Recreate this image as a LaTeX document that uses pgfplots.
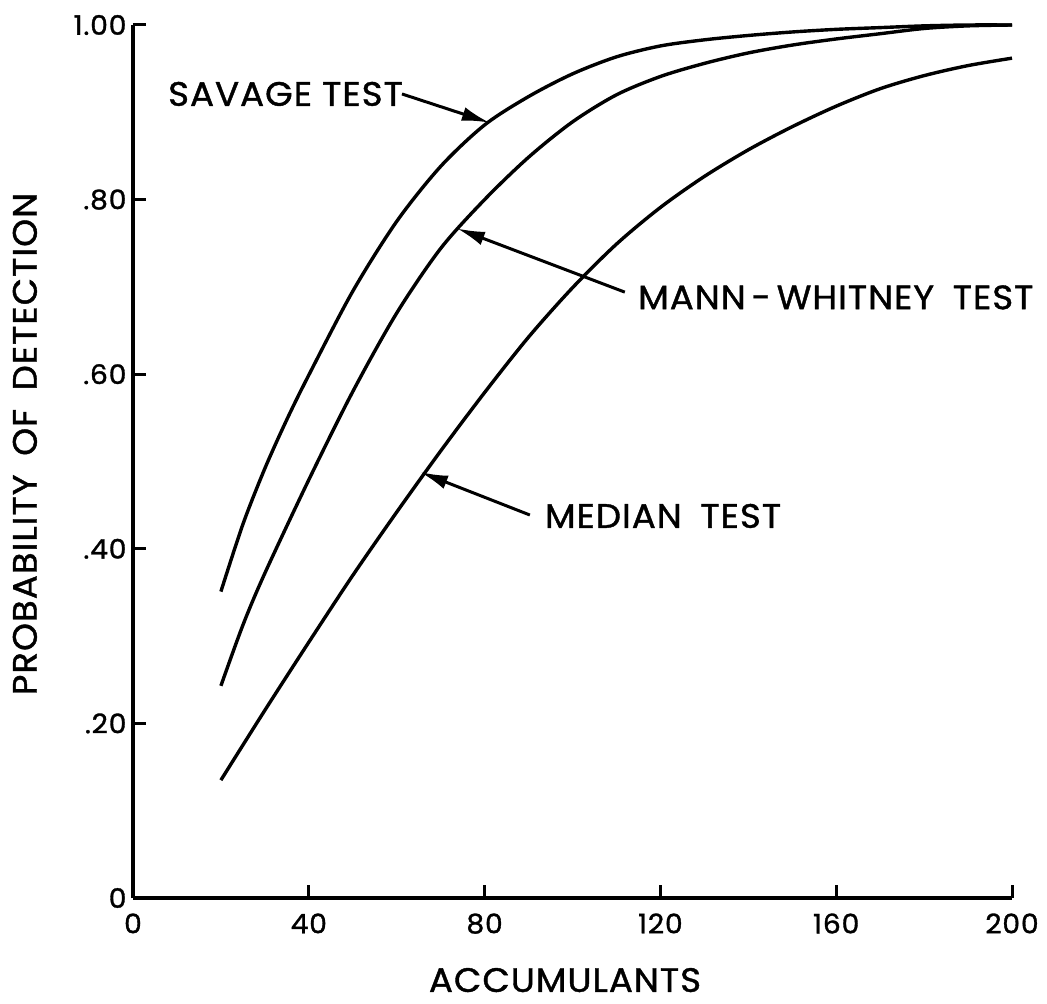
\documentclass[border=0pt]{standalone}
\usepackage{pgfplots}
\pgfplotsset{compat=1.18}
\usepackage{fontspec}
\setmainfont{Poppins}[FakeBold=1.2, FakeStretch=1.05, LetterSpace=3]
\usetikzlibrary{arrows.meta}
\newcommand{\wsp}{\hspace{0.55em}}
\begin{document}
\begin{tikzpicture}
\useasboundingbox (-133bp,-106bp) rectangle (914bp,898bp);
\begin{axis}[
  at={(0,0)}, anchor=south west,
  scale only axis, width=879bp, height=873bp,
  xmin=0, xmax=200, ymin=0, ymax=1,
  axis lines=left,
  axis line style={line width=3.2bp, -},
  xtick={0,40,80,120,160,200},
  xticklabels={0,40,80,120,160,200},
  ytick={0,0.2,0.4,0.6,0.8,1},
  yticklabels={0,.20,.40,.60,.80,1.00},
  tick style={line width=3bp, black},
  major tick length=13bp,
  tick align=inside,
  xticklabel style={font=\fontsize{27}{30}\selectfont, yshift=-12bp},
  yticklabel style={font=\fontsize{27}{30}\selectfont, xshift=-3bp},
  clip=false,
]
% Savage test
\addplot[line width=3.4bp, smooth] coordinates {
 (20,0.351) (25,0.428) (30,0.492) (35,0.548) (40,0.599) (50,0.695)
 (60,0.775) (70,0.838) (80,0.8855) (90,0.918) (100,0.944) (110,0.9635)
 (120,0.976) (130,0.983) (140,0.988) (150,0.992) (160,0.995) (170,0.997)
 (180,0.999) (190,1.0) (200,1.0)};
% Mann-Whitney test
\addplot[line width=3.4bp, smooth] coordinates {
 (20,0.243) (25,0.3125) (30,0.372) (40,0.479) (50,0.580) (60,0.670)
 (70,0.744) (80,0.800) (90,0.8485) (100,0.889) (110,0.920) (120,0.941)
 (130,0.956) (140,0.968) (150,0.977) (160,0.984) (170,0.990) (180,0.996)
 (190,0.999) (200,1.0)};
% Median test
\addplot[line width=3.4bp, smooth] coordinates {
 (20,0.135) (30,0.215) (40,0.293) (50,0.3695) (60,0.442) (70,0.512)
 (80,0.579) (90,0.6425) (100,0.699) (110,0.749) (120,0.791) (130,0.8265)
 (140,0.857) (150,0.8835) (160,0.907) (170,0.927) (180,0.942) (190,0.9535)
 (200,0.962)};

\node[anchor=west, font=\fontsize{34}{40}\selectfont, inner sep=0pt] at (axis cs:7.96,0.921) {SAVAGE\hspace{0.3em}TEST};
\draw[line width=3bp, -{Latex[length=28bp,width=14bp]}] (axis cs:61.2,0.921) -- (axis cs:81.2,0.888);

\node[anchor=west, font=\fontsize{34}{40}\selectfont, inner sep=0pt] at (axis cs:114.9,0.688) {MANN\,-\,WHITNEY\wsp TEST};
\draw[line width=3bp, -{Latex[length=28bp,width=14bp]}] (axis cs:111.9,0.694) -- (axis cs:73.7,0.767);

\node[anchor=west, font=\fontsize{34}{40}\selectfont, inner sep=0pt] at (axis cs:93.7,0.4376) {MEDIAN\wsp TEST};
\draw[line width=3bp, -{Latex[length=28bp,width=14bp]}] (axis cs:90.3,0.4387) -- (axis cs:65.3,0.488);

\node[font=\fontsize{34}{40}\selectfont, inner sep=0pt] at (axis cs:98.3,-0.094) {ACCUMULANTS};
\node[font=\fontsize{34}{40}\selectfont, inner sep=0pt, rotate=90] at (axis cs:-24.6,0.52) {PROBABILITY\wsp OF\wsp DETECTION};
\end{axis}
\end{tikzpicture}
\end{document}
